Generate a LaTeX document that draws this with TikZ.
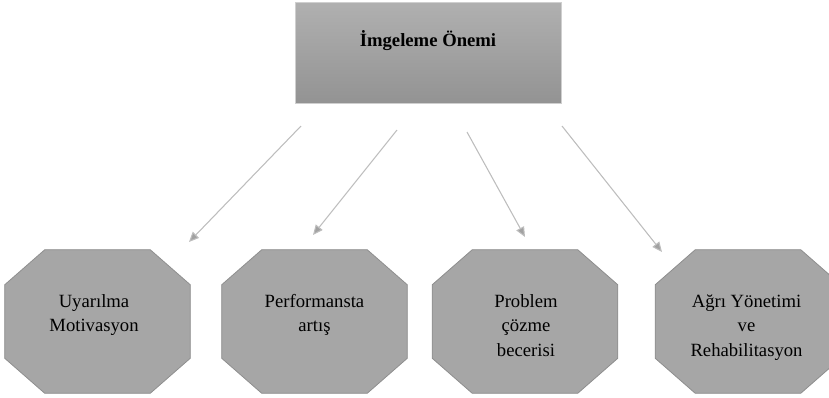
\documentclass[tikz,border=0pt]{standalone}
\usepackage{fontspec}
\setmainfont{Liberation Serif}
\usetikzlibrary{arrows.meta}

\definecolor{boxtop}{HTML}{B0B0B0}
\definecolor{boxbot}{HTML}{939393}
\definecolor{boxline}{HTML}{CFCFCF}
\definecolor{octfill}{HTML}{A6A6A6}
\definecolor{octline}{HTML}{8E8E8E}
\definecolor{arrgray}{HTML}{BDBDBD}

\begin{document}
\begin{tikzpicture}[x=0.75pt,y=-0.75pt,
  baslikkutu/.style={rectangle, minimum width=199.5pt, minimum height=75.75pt, top color=boxtop, bottom color=boxbot, draw=boxline, line width=0.6pt},
  baslikyazi/.style={font=\fontsize{14}{18}\selectfont\bfseries, inner sep=0pt},
  oct/.style={rectangle, minimum width=138.75pt, minimum height=107.25pt, inner sep=0pt},
  octcizgi/.style={fill=octfill, draw=octline, line width=0.6pt},
  octyazi/.style={align=center, anchor=north, inner sep=0pt, font=\fontsize{14}{18.4}\selectfont},
  ok/.style={draw=arrgray, line width=0.8pt, -{Triangle[length=7.5pt,width=6.5pt,fill=arrgray!85!black]}}]

\useasboundingbox (0,0) rectangle (829,397);

% baslik
\node[baslikkutu] (baslik) at (428,52.5) {};
\node[baslikyazi] (baslikmetin) at (428,41) {İmgeleme Önemi};

% sekizgenler
\node[oct] (uyarilma) at (97.5,321.5) {};
\node[oct] (performans) at (314.5,321.5) {};
\node[oct] (problem) at (525,321.5) {};
\node[oct] (agri) at (748,321.5) {};

\foreach \n in {uyarilma,performans,problem,agri}
  \draw[octcizgi] ([xshift=30pt]\n.north west) -- ([xshift=-30pt]\n.north east)
    -- ([yshift=-26.25pt]\n.north east) -- ([yshift=26.25pt]\n.south east)
    -- ([xshift=-30pt]\n.south east) -- ([xshift=30pt]\n.south west)
    -- ([yshift=26.25pt]\n.south west) -- ([yshift=-26.25pt]\n.north west) -- cycle;

\node[octyazi] (uyarilmametin) at (94,294) {Uyarılma\\Motivasyon};
\node[octyazi] (performansmetin) at (314.5,294) {Performansta\\artış};
\node[octyazi] (problemmetin) at (526,294) {Problem\\çözme\\becerisi};
\node[octyazi] (agrimetin) at (746.5,294) {Ağrı Yönetimi\\ve\\Rehabilitasyon};

% oklar
\coordinate (k1) at (301,126);
\coordinate (u1) at (189,242);
\coordinate (k2) at (397,130);
\coordinate (u2) at (313,235);
\coordinate (k3) at (467,132);
\coordinate (u3) at (525,237);
\coordinate (k4) at (562,126);
\coordinate (u4) at (662,252);

\draw[ok] (k1) -- (u1);
\draw[ok] (k2) -- (u2);
\draw[ok] (k3) -- (u3);
\draw[ok] (k4) -- (u4);

\end{tikzpicture}
\end{document}
